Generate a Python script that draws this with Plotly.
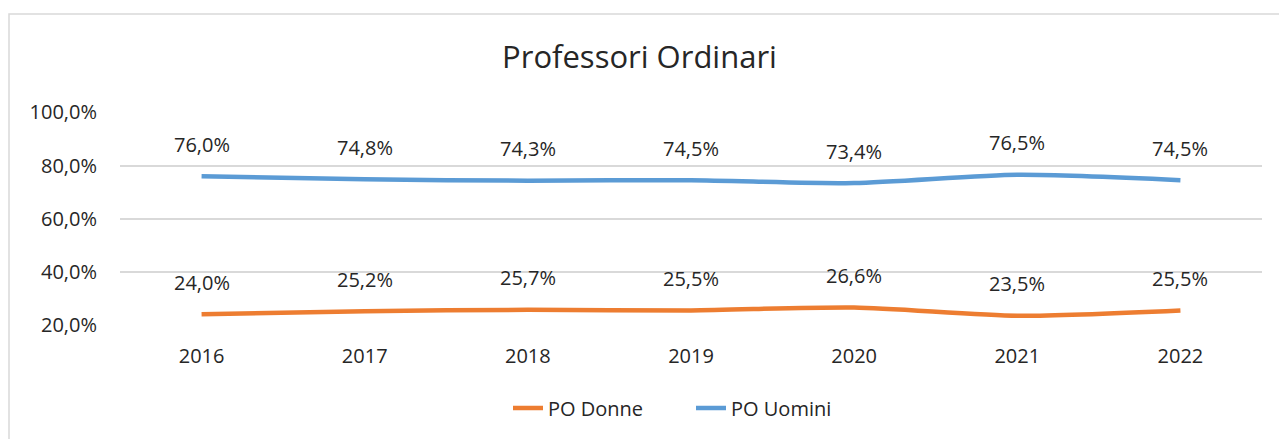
import plotly.graph_objects as go

years = ["2016", "2017", "2018", "2019", "2020", "2021", "2022"]
po_donne = [0.240, 0.252, 0.257, 0.255, 0.266, 0.235, 0.255]
po_uomini = [0.760, 0.748, 0.743, 0.745, 0.734, 0.765, 0.745]
y_ticks = [0.2, 0.4, 0.6, 0.8, 1.0]

ORANGE = "#ED7D31"
BLUE = "#5B9BD5"
TEXT = "#262626"
GRID = "#D9D9D9"
FONT = "Open Sans"

fig = go.Figure()
fig.add_trace(go.Scatter(x=years, y=po_donne, name="PO Donne", mode="lines",
                         line=dict(color=ORANGE, width=4.5, shape="spline", smoothing=0.7)))
fig.add_trace(go.Scatter(x=years, y=po_uomini, name="PO Uomini", mode="lines",
                         line=dict(color=BLUE, width=4.5, shape="spline", smoothing=0.7)))

def fmt(v):
    return f"{v*100:.1f}%".replace(".", ",")

annotations = []
for series in (po_donne, po_uomini):
    for i, v in enumerate(series):
        annotations.append(dict(x=i, y=v, xref="x", yref="y", text=fmt(v), showarrow=False,
                                yshift=32, xanchor="center", yanchor="middle",
                                font=dict(family=FONT, size=20, color=TEXT)))

fig.update_layout(
    width=1279, height=439,
    paper_bgcolor="white", plot_bgcolor="white",
    separators=",.",
    margin=dict(l=120, r=17, t=112, b=114, autoexpand=False),
    title=dict(text="Professori Ordinari", x=0.5, xanchor="center", y=1 - 57/439, yanchor="middle",
               font=dict(family=FONT, size=31, color=TEXT)),
    font=dict(family=FONT, size=20, color=TEXT),
    xaxis=dict(type="category", range=[-0.5, 6.5], showgrid=False, showline=False, zeroline=False,
               ticks="", ticklabelstandoff=17, tickfont=dict(size=20, color=TEXT)),
    yaxis=dict(range=[0.2, 1.0015], tickvals=y_ticks, tickformat=".1%", showgrid=True, gridcolor=GRID,
               gridwidth=1.5, zeroline=False, showline=False, ticks="", ticklabelstandoff=22,
               tickfont=dict(size=20, color=TEXT)),
    legend=dict(orientation="h", x=0.5, xanchor="center", y=-(408-325)/213, yanchor="middle",
                font=dict(family=FONT, size=20, color=TEXT), entrywidth=138, entrywidthmode="pixels",
                bgcolor="rgba(0,0,0,0)"),
    annotations=annotations,
    shapes=[dict(type="rect", xref="paper", yref="paper",
                 x0=(9-120)/1142, x1=1.2, y0=-1.0, y1=1 + (112-14)/213,
                 line=dict(color=GRID, width=1.5), fillcolor="rgba(0,0,0,0)", layer="below")],
)

fig.write_html("out.html", config={"displayModeBar": False},
               post_script="document.body.style.margin='0';")
